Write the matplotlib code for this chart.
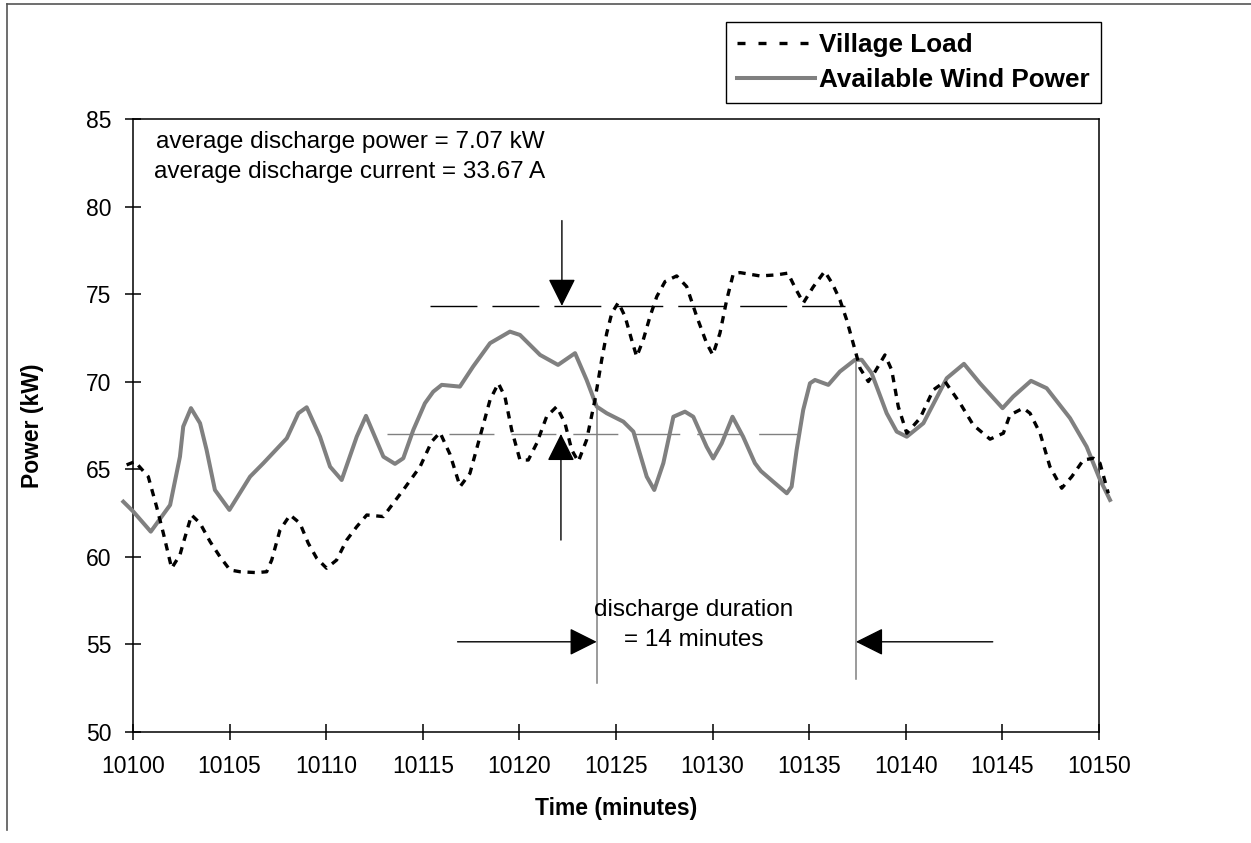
import matplotlib
matplotlib.use('Agg')
import matplotlib.pyplot as plt
from matplotlib.lines import Line2D

plt.rcParams['font.family'] = ['Liberation Sans', 'DejaVu Sans']

# ---------------- data ----------------
wind_t = [10099.50, 10100.02, 10100.92, 10101.92, 10102.43, 10102.60, 10103.00, 10103.47,
          10103.81, 10104.24, 10104.99, 10106.06, 10106.75, 10107.96, 10108.56, 10108.99,
          10109.68, 10110.20, 10110.80, 10111.58, 10112.06, 10112.96, 10113.56, 10113.99,
          10114.51, 10115.11, 10115.54, 10115.98, 10116.92, 10117.60, 10118.48, 10119.51,
          10120.03, 10121.07, 10122.00, 10122.88, 10123.48, 10124.00, 10124.52, 10125.38,
          10125.90, 10126.59, 10126.98, 10127.45, 10127.97, 10128.57, 10129.00, 10129.69,
          10130.03, 10130.47, 10131.03, 10131.58, 10132.19, 10132.50, 10133.14, 10133.84,
          10134.09, 10134.35, 10134.69, 10135.04, 10135.30, 10135.99, 10136.59, 10137.37,
          10137.72, 10138.23, 10139.01, 10139.53, 10140.05, 10140.91, 10142.12, 10143.01,
          10143.84, 10145.01, 10145.56, 10146.48, 10147.29, 10148.50, 10149.36, 10150.02,
          10150.57]
wind_p = [63.15, 62.58, 61.44, 62.96, 65.72, 67.44, 68.49, 67.63,
          66.10, 63.82, 62.68, 64.58, 65.35, 66.77, 68.20, 68.54,
          66.86, 65.15, 64.39, 66.86, 68.05, 65.72, 65.31, 65.63,
          67.25, 68.77, 69.43, 69.82, 69.72, 70.86, 72.20, 72.86,
          72.67, 71.53, 70.96, 71.63, 70.10, 68.58, 68.20, 67.72,
          67.15, 64.58, 63.82, 65.35, 68.00, 68.29, 68.00, 66.29,
          65.62, 66.48, 68.00, 66.86, 65.35, 64.90, 64.29, 63.63,
          64.01, 66.10, 68.39, 69.91, 70.10, 69.82, 70.58, 71.25,
          71.25, 70.49, 68.20, 67.15, 66.86, 67.63, 70.20, 71.02,
          69.91, 68.49, 69.15, 70.05, 69.63, 67.92, 66.29, 64.49,
          63.25]

load_t = [10099.67, 10100.10, 10100.79, 10101.22, 10101.57, 10102.00, 10102.43, 10102.60,
          10103.03, 10103.47, 10103.99, 10104.50, 10105.02, 10105.54, 10106.40, 10106.92,
          10107.18, 10107.61, 10108.13, 10108.64, 10109.07, 10109.51, 10110.02, 10110.54,
          10111.06, 10111.58, 10112.10, 10112.96, 10113.47, 10113.99, 10114.86, 10115.46,
          10115.89, 10116.41, 10116.93, 10117.44, 10117.96, 10118.48, 10118.91, 10119.25,
          10119.60, 10120.03, 10120.46, 10120.90, 10121.41, 10121.93, 10122.36, 10122.71,
          10123.05, 10123.48, 10123.91, 10124.26, 10124.52, 10124.78, 10125.12, 10125.47,
          10125.81, 10126.07, 10126.41, 10126.76, 10127.11, 10127.54, 10128.14, 10128.66,
          10129.18, 10129.69, 10130.01, 10130.38, 10130.73, 10131.07, 10131.42, 10132.45,
          10133.32, 10133.90, 10134.30, 10134.70, 10135.20, 10135.80, 10136.20, 10136.59,
          10136.94, 10137.37, 10137.63, 10138.06, 10138.41, 10138.92, 10139.27, 10139.61,
          10140.05, 10140.74, 10141.42, 10142.03, 10142.81, 10143.49, 10144.36, 10145.05,
          10145.39, 10146.08, 10146.43, 10146.95, 10147.46, 10148.07, 10148.59, 10149.19,
          10149.71, 10150.05, 10150.48]
load_p = [65.25, 65.44, 64.58, 62.87, 61.35, 59.35, 60.11, 60.78,
          62.39, 61.92, 60.87, 60.01, 59.25, 59.15, 59.10, 59.15,
          59.82, 61.54, 62.39, 61.92, 60.78, 59.92, 59.35, 59.82,
          60.96, 61.72, 62.39, 62.30, 63.06, 63.82, 65.15, 66.58,
          67.10, 65.85, 64.01, 64.77, 66.86, 68.96, 69.91, 69.15,
          67.25, 65.53, 65.53, 66.49, 68.01, 68.58, 67.63, 66.10,
          65.44, 66.68, 68.96, 71.25, 72.77, 73.91, 74.52, 73.72,
          72.39, 71.43, 72.39, 73.72, 74.86, 75.72, 76.04, 75.43,
          73.72, 72.20, 71.53, 72.77, 74.67, 76.16, 76.23, 76.04,
          76.10, 76.20, 75.30, 74.50, 75.40, 76.30, 75.60, 74.67,
          73.53, 71.82, 70.77, 70.01, 70.58, 71.53, 70.67, 68.58,
          67.06, 67.92, 69.53, 70.01, 68.77, 67.53, 66.72, 67.06,
          68.10, 68.49, 68.20, 67.06, 65.15, 63.92, 64.58, 65.53,
          65.63, 65.35, 63.63]

x_ticks = [10100, 10105, 10110, 10115, 10120, 10125, 10130, 10135, 10140, 10145, 10150]
y_ticks = [50, 55, 60, 65, 70, 75, 80, 85]

avg_load_level = 74.33      # dashed black reference line
avg_wind_level = 67.02      # dashed gray reference line
load_line_span = [10115.37, 10136.85]
wind_line_span = [10113.15, 10134.52]
discharge_start = 10124.0
discharge_end = 10137.42
note_lines = ['average discharge power = 7.07 kW', 'average discharge current = 33.67 A']
duration_lines = ['discharge duration', '= 14 minutes']

# ---------------- figure ----------------
W, H = 1251, 843
fig = plt.figure(figsize=(W / 100, H / 100), dpi=100)
ax = fig.add_axes([133 / W, 1 - 732 / H, (1099 - 133) / W, (732 - 119) / H])

GRAY = '#808080'
wind_line, = ax.plot(wind_t, wind_p, color=GRAY, lw=2.9, clip_on=False,
                     solid_joinstyle='round', zorder=3, label='Available Wind Power')
load_line, = ax.plot(load_t, load_p, color='black', lw=2.4, dashes=(2.2, 2.0),
                     clip_on=False, zorder=4, label='Village Load')

# reference lines
ax.plot(load_line_span, [avg_load_level] * 2, color='black', lw=1.0,
        linestyle=(0, (33.8, 10.8)), zorder=2)
ax.plot(wind_line_span, [avg_wind_level] * 2, color=GRAY, lw=1.0,
        linestyle=(0, (32.4, 12.2)), zorder=2)
ax.plot([discharge_start] * 2, [68.58, 52.8], color=GRAY, lw=1.1, zorder=2)
ax.plot([discharge_end] * 2, [71.25, 53.0], color=GRAY, lw=1.1, zorder=2)


def arrow(x0, y0, x1, y1):
    ax.annotate('', xy=(x1, y1), xytext=(x0, y0),
                arrowprops=dict(arrowstyle='-|>,head_length=0.86,head_width=0.43',
                                mutation_scale=20, color='black', lw=1.0,
                                shrinkA=0, shrinkB=0), zorder=5)


arrow(10122.2, 79.2, 10122.2, avg_load_level)
arrow(10122.15, 60.96, 10122.15, avg_wind_level)
arrow(10116.8, 55.15, discharge_start, 55.15)
arrow(10144.5, 55.15, discharge_end, 55.15)

ax.text(10111.23, 83.69, note_lines[0], ha='center', va='center', fontsize=17.5)
ax.text(10111.23, 81.98, note_lines[1], ha='center', va='center', fontsize=17.5)
ax.text(10129.0, 56.97, duration_lines[0], ha='center', va='center', fontsize=17.5)
ax.text(10129.0, 55.25, duration_lines[1], ha='center', va='center', fontsize=17.5)

ax.set_xlim(10100, 10150)
ax.set_ylim(50, 85)
ax.set_xticks(x_ticks)
ax.set_yticks(y_ticks)
ax.set_xticklabels([str(v) for v in x_ticks])
ax.set_yticklabels([str(v) for v in y_ticks])
ax.tick_params(axis='both', direction='inout', length=11, width=1.1, labelsize=16.5, color='black')
ax.tick_params(axis='x', pad=11)
ax.tick_params(axis='y', pad=10)
for s in ax.spines.values():
    s.set_linewidth(1.1)
    s.set_color('black')

ax.set_xlabel('Time (minutes)', fontsize=16.5, fontweight='bold', va='center')
ax.xaxis.set_label_coords(0.5, (732 - 808) / 613)
ax.set_ylabel('Power (kW)', fontsize=16.5, fontweight='bold', va='center')
ax.yaxis.set_label_coords((32 - 133) / 966, 0.5)

# legend (load handle drawn with the sparser dash pattern seen in the legend)
load_handle = Line2D([], [], color='black', lw=2.4, dashes=(2.4, 3.9), label='Village Load')
leg = ax.legend(handles=[load_handle, wind_line], loc='upper right',
                bbox_to_anchor=(1101 / W, 1 - 22 / H), bbox_transform=fig.transFigure,
                prop={'weight': 'bold', 'size': 18.8}, frameon=True, fancybox=False,
                edgecolor='black', framealpha=1, borderaxespad=0, handlelength=3.0,
                handletextpad=0.15, borderpad=0.42, labelspacing=0.42)
leg.get_frame().set_linewidth(1.0)

# outer frame fragments
fig.add_artist(Line2D([7 / W, 7 / W], [0.015, 1 - 4 / H], transform=fig.transFigure,
                      color='#555555', lw=1.2))
fig.add_artist(Line2D([7 / W, 1.0], [1 - 4 / H, 1 - 4 / H], transform=fig.transFigure,
                      color='#555555', lw=1.2))

fig.savefig('out.png', dpi=100)
